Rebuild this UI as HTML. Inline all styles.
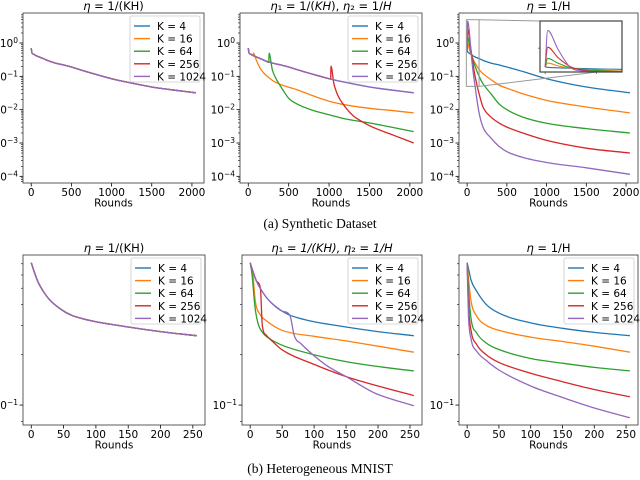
<!DOCTYPE html>
<html><head><meta charset="utf-8">
<style>
body{margin:0;background:#fff;}
svg{display:block;font-family:"DejaVu Sans","Liberation Sans",sans-serif;}
.cap{font-family:"Liberation Serif",serif;font-size:13.5px;}
</style></head>
<body>
<svg id="fig" width="640" height="480" viewBox="0 0 640 480" xmlns="http://www.w3.org/2000/svg">
<text class="cap" x="320" y="228" text-anchor="middle">(a) Synthetic Dataset</text>
<text class="cap" x="320" y="473" text-anchor="middle">(b) Heterogeneous MNIST</text>
</svg>
<script>
const colors = ['#1f77b4','#ff7f0e','#2ca02c','#d62728','#9467bd'];
const legendLabels = ['K = 4','K = 16','K = 64','K = 256','K = 1024'];
const topXTicks = [0,500,1000,1500,2000];
const botXTicks = [0,50,100,150,200,250];
const topYTickExps = [0,-1,-2,-3,-4];
const botYTickExps = [-1];

// Synthetic, eta = 1/(KH): identical for all K
const baseRounds = [0,10,30,60,100,150,200,300,400,500,600,800,1000,1200,1500,1800,2048];
const baseLoss = [0.7,0.5,0.46,0.42,0.38,0.34,0.3,0.25,0.22,0.19,0.16,0.115,0.085,0.066,0.048,0.038,0.032];

// Synthetic, eta1/eta2 switch
const s2k16Rounds = [0,10,30,60,64,100,150,200,300,400,500,600,800,1000,1200,1500,1800,2048];
const s2k16Loss = [0.7,0.5,0.46,0.42,0.5,0.3,0.17,0.12,0.075,0.057,0.047,0.04,0.026,0.018,0.014,0.011,0.0093,0.008];
const s2k64Rounds = [0,10,30,60,100,150,200,255,256,300,350,400,500,600,800,1000,1200,1500,1800,2048];
const s2k64Loss = [0.7,0.5,0.46,0.42,0.38,0.34,0.3,0.26,0.5,0.15,0.08,0.05,0.022,0.015,0.0095,0.007,0.0053,0.004,0.0029,0.0022];
const s2k256Rounds = [0,10,30,60,100,150,200,300,400,500,600,800,1000,1020,1024,1060,1100,1200,1300,1400,1500,1800,2048];
const s2k256Loss = [0.7,0.5,0.46,0.42,0.38,0.34,0.3,0.25,0.22,0.19,0.16,0.115,0.085,0.083,0.2,0.06,0.03,0.012,0.0065,0.0045,0.0033,0.0017,0.001];

// Synthetic, eta = 1/H
const s3Rounds = [0,5,25,50,75,100,150,200,300,400,500,700,1000,1500,2048];
const s3k4Loss = [0.6,0.55,0.5,0.45,0.41,0.38,0.34,0.3,0.25,0.22,0.19,0.14,0.085,0.048,0.032];
const s3k16Loss = [0.6,1.0,0.7,0.45,0.33,0.25,0.16,0.12,0.08,0.055,0.044,0.03,0.019,0.012,0.008];
const s3k64Loss = [0.6,1.5,1.0,0.5,0.3,0.2,0.1,0.06,0.03,0.015,0.01,0.006,0.0039,0.0027,0.002];
const s3k256Loss = [0.6,2.7,1.6,0.6,0.22,0.1,0.03,0.012,0.006,0.004,0.003,0.002,0.0012,0.0007,0.0005];
const s3k1024Loss = [0.6,4.5,2.5,0.5,0.14,0.05,0.008,0.003,0.0014,0.0008,0.00055,0.00037,0.00026,0.00018,0.000115];

// MNIST, eta = 1/(KH)
const mBaseRounds = [0,5,10,20,30,50,62,75,100,150,200,256];
const mBaseLoss = [0.71,0.62,0.55,0.47,0.42,0.365,0.345,0.332,0.315,0.293,0.275,0.26];

// MNIST switch
const m2k16Rounds = [0,4,8,15,25,50,100,150,200,256];
const m2k16Loss = [0.71,0.62,0.42,0.35,0.32,0.28,0.258,0.242,0.225,0.207];
const m2k64Rounds = [0,3,7,12,20,30,50,100,150,200,256];
const m2k64Loss = [0.71,0.6,0.4,0.31,0.27,0.25,0.228,0.2,0.182,0.17,0.16];
const m2k256Rounds = [0,5,10,16,19,25,35,50,100,150,200,256];
const m2k256Loss = [0.71,0.62,0.55,0.5,0.3,0.262,0.24,0.214,0.175,0.148,0.13,0.114];
const m2k1024Rounds = [0,5,10,20,30,50,62,69,80,95,120,150,195,256];
const m2k1024Loss = [0.71,0.62,0.55,0.47,0.42,0.365,0.345,0.26,0.232,0.205,0.172,0.148,0.118,0.099];

// MNIST, eta = 1/H
const m3Rounds = [0,2,6,15,30,50,100,150,200,256];
const m3k4Loss = [0.71,0.66,0.56,0.48,0.4,0.355,0.31,0.288,0.272,0.26];
const m3k16Loss = [0.71,0.58,0.42,0.34,0.3,0.28,0.255,0.24,0.225,0.207];
const m3k64Loss = [0.71,0.5,0.33,0.27,0.235,0.215,0.19,0.178,0.168,0.16];
const m3k256Loss = [0.71,0.4,0.28,0.23,0.2,0.18,0.155,0.138,0.124,0.112];
const m3k1024Loss = [0.71,0.35,0.25,0.21,0.185,0.162,0.13,0.111,0.096,0.084];

const NS = 'http://www.w3.org/2000/svg';
const svg = document.getElementById('fig');
function mk(tag, attrs, parent){const e=document.createElementNS(NS,tag);for(const k in attrs)e.setAttribute(k,attrs[k]);(parent||svg).appendChild(e);return e;}

// monotone cubic (Fritsch-Carlson) path through pixel points
function smoothPath(px, py){
  const n=px.length; if(n<3){return 'M'+px.map((x,i)=>x.toFixed(1)+','+py[i].toFixed(1)).join(' L');}
  const d=[],m=new Array(n);
  for(let i=0;i<n-1;i++) d.push((py[i+1]-py[i])/(px[i+1]-px[i]));
  m[0]=d[0]; m[n-1]=d[n-2];
  for(let i=1;i<n-1;i++){ m[i]=(d[i-1]*d[i]<=0)?0:(d[i-1]+d[i])/2; }
  for(let i=0;i<n-1;i++){
    if(d[i]===0){m[i]=0;m[i+1]=0;continue;}
    const a=m[i]/d[i], b=m[i+1]/d[i], s=a*a+b*b;
    if(s>9){const t=3/Math.sqrt(s); m[i]=t*a*d[i]; m[i+1]=t*b*d[i];}
  }
  let p='M'+px[0].toFixed(1)+','+py[0].toFixed(1);
  for(let i=0;i<n-1;i++){
    const h=(px[i+1]-px[i])/3;
    p+=' C'+(px[i]+h).toFixed(1)+','+(py[i]+m[i]*h).toFixed(1)+' '+(px[i+1]-h).toFixed(1)+','+(py[i+1]-m[i+1]*h).toFixed(1)+' '+px[i+1].toFixed(1)+','+py[i+1].toFixed(1);
  }
  return p;
}

const panels = [
 {id:'synthetic-kh',L:23,R:204,T:13,B:183,xmax:2048,ylo:-4.2,yhi:0.9,xt:topXTicks,yt:topYTickExps,legend:true,
  series:[[baseRounds,baseLoss],[baseRounds,baseLoss],[baseRounds,baseLoss],[baseRounds,baseLoss],[baseRounds,baseLoss]],
  title:[['η',1],[' = 1/(KH)',0]]},
 {id:'synthetic-switch',L:240,R:422,T:13,B:183,xmax:2048,ylo:-4.2,yhi:0.9,xt:topXTicks,yt:topYTickExps,legend:true,
  series:[[baseRounds,baseLoss],[s2k16Rounds,s2k16Loss],[s2k64Rounds,s2k64Loss],[s2k256Rounds,s2k256Loss],[baseRounds,baseLoss]],
  title:[['η',1],['₁',0],[' = 1/(',0],['KH',1],['), ',0],['η',1],['₂',0],[' = 1/',0],['H',1]]},
 {id:'synthetic-h',L:459,R:638,T:13,B:183,xmax:2048,ylo:-4.2,yhi:0.9,xt:topXTicks,yt:topYTickExps,legend:false,inset:true,
  series:[[s3Rounds,s3k4Loss],[s3Rounds,s3k16Loss],[s3Rounds,s3k64Loss],[s3Rounds,s3k256Loss],[s3Rounds,s3k1024Loss]],
  title:[['η',1],[' = 1/H',0]]},
 {id:'mnist-kh',L:23,R:205,T:255,B:425,xmax:256,ylo:Math.log10(0.076),yhi:Math.log10(0.79),xt:botXTicks,yt:botYTickExps,legend:true,minorOnly:[0.08,0.2,0.3,0.4,0.5,0.6,0.7],
  series:[[mBaseRounds,mBaseLoss],[mBaseRounds,mBaseLoss],[mBaseRounds,mBaseLoss],[mBaseRounds,mBaseLoss],[mBaseRounds,mBaseLoss]],
  title:[['η',1],[' = 1/(KH)',0]]},
 {id:'mnist-switch',L:242,R:422,T:255,B:425,xmax:256,ylo:Math.log10(0.076),yhi:Math.log10(0.79),xt:botXTicks,yt:botYTickExps,legend:true,minorOnly:[0.08,0.2,0.3,0.4,0.5,0.6,0.7],
  series:[[mBaseRounds,mBaseLoss],[m2k16Rounds,m2k16Loss],[m2k64Rounds,m2k64Loss],[m2k256Rounds,m2k256Loss],[m2k1024Rounds,m2k1024Loss]],
  title:[['η',1],['₁',0],[' = 1/(',1],['KH',1],['), ',1],['η',1],['₂',0],[' = 1/',1],['H',1]]},
 {id:'mnist-h',L:459,R:638,T:255,B:425,xmax:256,ylo:Math.log10(0.076),yhi:Math.log10(0.79),xt:botXTicks,yt:botYTickExps,legend:true,minorOnly:[0.08,0.2,0.3,0.4,0.5,0.6,0.7],
  series:[[m3Rounds,m3k4Loss],[m3Rounds,m3k16Loss],[m3Rounds,m3k64Loss],[m3Rounds,m3k256Loss],[m3Rounds,m3k1024Loss]],
  title:[['η',1],[' = 1/H',0]]}
];

panels.forEach((p,pi)=>{
  const g = mk('g',{});
  
  
  const x0=-0.05*p.xmax, x1=1.05*p.xmax;
  const xs = v => p.L + (v-x0)/(x1-x0)*(p.R-p.L);
  const ys = v => p.T + (p.yhi-Math.log10(v))/(p.yhi-p.ylo)*(p.B-p.T);
  const cid='clip'+pi;
  const cp=mk('clipPath',{id:cid},g); mk('rect',{x:p.L,y:p.T,width:p.R-p.L,height:p.B-p.T},cp);
  let minors=[];
  if(p.minorOnly) minors=p.minorOnly;
  else for(let e=-5;e<=1;e++) for(let m=2;m<=9;m++) minors.push(m*Math.pow(10,e));
  minors.forEach(v=>{const y=ys(v); if(y>=p.T&&y<=p.B) mk('line',{x1:p.L-2,x2:p.L,y1:y,y2:y,stroke:'#000','stroke-width':0.6},g);});
  p.yt.forEach(e=>{
    const y=ys(Math.pow(10,e));
    mk('line',{x1:p.L-3.5,x2:p.L,y1:y,y2:y,stroke:'#000','stroke-width':0.8},g);
    const t=mk('text',{x:p.L-5,y:y+4,'text-anchor':'end','font-size':'10.5px'},g);
    
    
    t.textContent='10';
    const s=mk('tspan',{dy:-4,'font-size':'7.5px'},t); s.textContent=(e<0?'−':'')+Math.abs(e);
  });
  p.xt.forEach(v=>{
    const x=xs(v);
    mk('line',{x1:x,x2:x,y1:p.B,y2:p.B+3.5,stroke:'#000','stroke-width':0.8},g);
    const t=mk('text',{x:x,y:p.B+13,'text-anchor':'middle','font-size':'10.5px'},g);
    
    
    t.textContent=v;
  });
  const xl=mk('text',{x:(p.L+p.R)/2,y:p.B+23.5,'text-anchor':'middle','font-size':'10.5px'},g);
  
  
  xl.textContent='Rounds';
  const tt=mk('text',{x:(p.L+p.R)/2,y:p.T-3,'text-anchor':'middle','font-size':'11.5px'},g);
  
  
  p.title.forEach(([s,it])=>{const ts=mk('tspan',it?{'font-style':'italic'}:{},tt); ts.textContent=s;});
  const lg=mk('g',{'clip-path':'url(#'+cid+')'},g);
  p.series.forEach(([r,l],i)=>{
    const pth=mk('path',{d:smoothPath(r.map(xs),l.map(ys)),fill:'none',stroke:colors[i],'stroke-width':1.3,'stroke-linejoin':'round'},lg);
    
    
  });
  mk('rect',{x:p.L,y:p.T,width:p.R-p.L,height:p.B-p.T,fill:'none',stroke:'#333','stroke-width':0.8},g);
  if(p.inset){
    const rx0=xs(-10),rx1=xs(150),ry0=ys(5),ry1=ys(0.05);
    mk('rect',{x:rx0,y:ry0,width:rx1-rx0,height:ry1-ry0,fill:'none',stroke:'#999','stroke-width':1},g);
    const IL=540,IR=622,IT=21,IB=72;
    mk('line',{x1:rx1,y1:ry0,x2:IL,y2:IT,stroke:'#999','stroke-width':1},g);
    mk('line',{x1:rx1,y1:ry1,x2:IR-25,y2:IB,stroke:'#999','stroke-width':1},g);
    const ig=mk('g',{},g);
    
    
    mk('rect',{x:IL,y:IT,width:IR-IL,height:IB-IT,fill:'#fff'},ig);
    const ixs=v=>IL+(v+10)/160*(IR-IL);
    const iys=v=>IB-(v-0.05)/(5.5-0.05)*(IB-IT);
    const icp=mk('clipPath',{id:'clipinset'},ig); mk('rect',{x:IL,y:IT,width:IR-IL,height:IB-IT},icp);
    const il=mk('g',{'clip-path':'url(#clipinset)'},ig);
    p.series.forEach(([r,l],i)=>{
      const pth=mk('path',{d:smoothPath(r.map(ixs),l.map(iys)),fill:'none',stroke:colors[i],'stroke-width':1.1},il);
      
      
    });
    mk('rect',{x:IL,y:IT,width:IR-IL,height:IB-IT,fill:'none',stroke:'#444','stroke-width':1.2},ig);
    [0,100].forEach(v=>mk('line',{x1:ixs(v),x2:ixs(v),y1:IB,y2:IB+2,stroke:'#444','stroke-width':0.7},ig));
    mk('line',{x1:IL-2,x2:IL,y1:iys(2.6),y2:iys(2.6),stroke:'#444','stroke-width':0.7},ig);
  }
  if(p.legend){
    const lx=p.R-74, ly=p.T+3;
    const lgd=mk('g',{},g);
    
    
    mk('rect',{x:lx,y:ly,width:70,height:66,rx:2,fill:'#fff','fill-opacity':0.85,stroke:'#ccc','stroke-width':0.8},lgd);
    legendLabels.forEach((lab,i)=>{
      const y=ly+10+i*12.6;
      const e=mk('g',{},lgd);
      
      
      mk('line',{x1:lx+4,x2:lx+20,y1:y,y2:y,stroke:colors[i],'stroke-width':1.4},e);
      const t=mk('text',{x:lx+27,y:y+4,'font-size':'10.5px'},e); t.textContent=lab;
    });
  }
});
</script>
</body></html>
